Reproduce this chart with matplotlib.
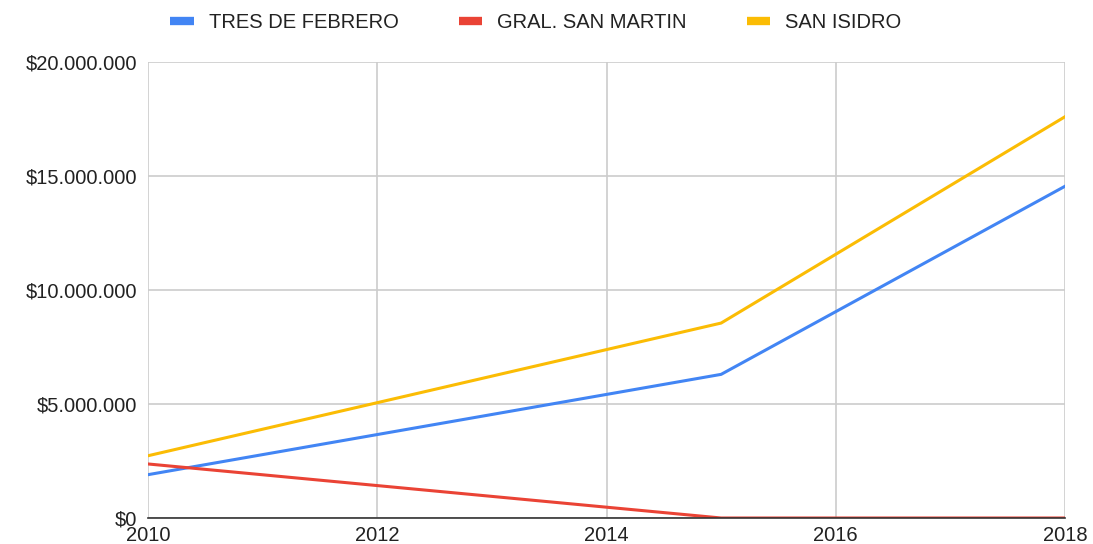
import matplotlib.pyplot as plt
from matplotlib.ticker import FuncFormatter, MultipleLocator

# data
years = [2010, 2015, 2018]
tres_de_febrero = [1900000, 6300000, 14550000]
gral_san_martin = [2370000, 0, 0]
san_isidro = [2730000, 8550000, 17600000]

plt.rcParams['font.family'] = ['Liberation Sans', 'DejaVu Sans']

fig = plt.figure(figsize=(10.93, 5.44), dpi=100)
ax = fig.add_axes([148 / 1093, 1 - 518 / 544, (1065 - 148) / 1093, (518 - 62) / 544])

ax.plot(years, tres_de_febrero, color='#4285F4', lw=2.2, label='TRES DE FEBRERO')
ax.plot(years, gral_san_martin, color='#EA4335', lw=2.2, label='GRAL. SAN MARTIN')
ax.plot(years, san_isidro, color='#FBBC04', lw=2.2, label='SAN ISIDRO')

ax.set_xlim(2010, 2018)
ax.set_ylim(0, 20000000)
ax.xaxis.set_major_locator(MultipleLocator(2))
ax.yaxis.set_major_locator(MultipleLocator(5000000))
ax.yaxis.set_major_formatter(FuncFormatter(lambda v, p: '$' + f'{int(v):,}'.replace(',', '.')))

ax.grid(True, color='#cccccc', lw=1.2)
ax.set_axisbelow(True)
for s in ['top', 'right', 'left']:
    ax.spines[s].set_visible(False)
ax.spines['bottom'].set_color('#333333')
ax.spines['bottom'].set_linewidth(1.2)
ax.tick_params(length=0, labelsize=14.5, colors='#222222')
ax.tick_params(axis='x', pad=6)
ax.tick_params(axis='y', pad=8)

leg = fig.legend(loc='center', bbox_to_anchor=(536 / 1093, 1 - 22 / 544), ncol=3, frameon=False,
                 fontsize=14.5, handlelength=1.15, handleheight=0.5, columnspacing=3.0,
                 handletextpad=0.75, borderpad=0)
for t in leg.get_texts():
    t.set_color('#222222')
for h in leg.legend_handles:
    h.set_linewidth(6)
    h.set_solid_capstyle('butt')

fig.savefig('out.png', dpi=100)
